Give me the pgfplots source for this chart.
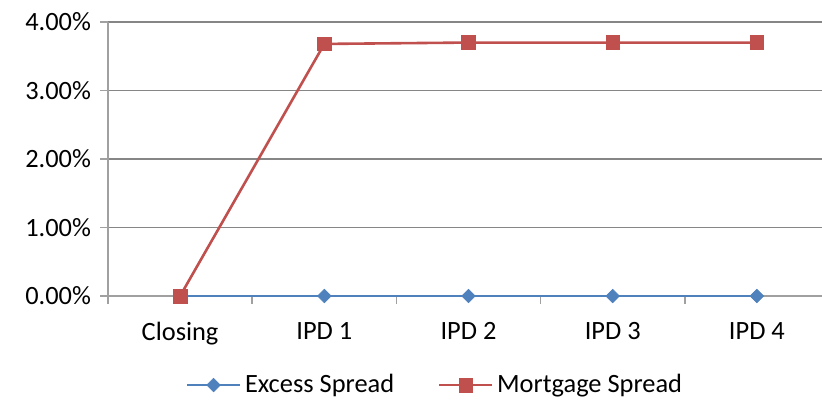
\documentclass[border=0pt]{standalone}
\usepackage{fontspec}
\setmainfont{Carlito}
\usepackage{pgfplots}
\pgfplotsset{compat=1.18}
\definecolor{exblue}{HTML}{4F81BD}
\definecolor{mored}{HTML}{C0504D}
\definecolor{gridgray}{HTML}{868686}
\definecolor{axgray}{HTML}{A0A0A0}
\begin{document}
\begin{tikzpicture}
\begin{axis}[
  at={(0,0)}, anchor=south west,
  scale only axis, width=360.5pt, height=137pt,
  xmin=-0.5, xmax=4.5, ymin=0, ymax=4,
  axis lines=left, axis line style={-, draw=axgray, line width=0.8pt},
  xtick={0,1,2,3,4},
  xticklabels={Closing,IPD 1,IPD 2,IPD 3,IPD 4},
  major x tick style={draw=none},
  minor xtick={-0.5,0.5,1.5,2.5,3.5},
  minor tick length=4pt,
  minor x tick style={draw=axgray, line width=0.8pt},
  ytick={0,1,2,3,4},
  yticklabels={0.00\%,1.00\%,2.00\%,3.00\%,4.00\%},
  major tick length=4pt,
  tick align=outside,
  y tick style={draw=axgray, line width=0.8pt},
  ymajorgrids, grid style={draw=gridgray, line width=0.8pt},
  tick label style={font=\fontsize{13.2}{15}\selectfont, text=black},
  yticklabel style={xshift=-1pt},
  xticklabel style={yshift=-5.5pt},
  legend style={at={(0.455,0)}, anchor=center, yshift=-44.5pt, draw=none,
    font=\fontsize{13.2}{15}\selectfont, legend columns=2,
    /tikz/every even column/.append style={column sep=20pt}},
  legend image code/.code={\draw[mark repeat=2,mark phase=2] plot coordinates {(0cm,0cm) (0.46cm,0cm) (0.92cm,0cm)};},
  clip=false,
]
\addplot[color=exblue, line width=1.3pt, mark=square*, mark size=2.4pt, mark options={fill=exblue, draw=exblue, line width=0.3pt, rotate=45}]
  coordinates {(0,0) (1,0) (2,0) (3,0) (4,0)};
\addlegendentry{Excess Spread}
\addplot[color=mored, line width=1.3pt, mark=square*, mark size=3.4pt, mark options={fill=mored, draw=mored, line width=0.3pt}]
  coordinates {(0,0) (1,3.68) (2,3.70) (3,3.70) (4,3.70)};
\addlegendentry{Mortgage Spread}
\end{axis}
\pgfresetboundingbox
\path[use as bounding box] (-54pt,-54pt) rectangle (357pt,148pt);
\end{tikzpicture}
\end{document}
